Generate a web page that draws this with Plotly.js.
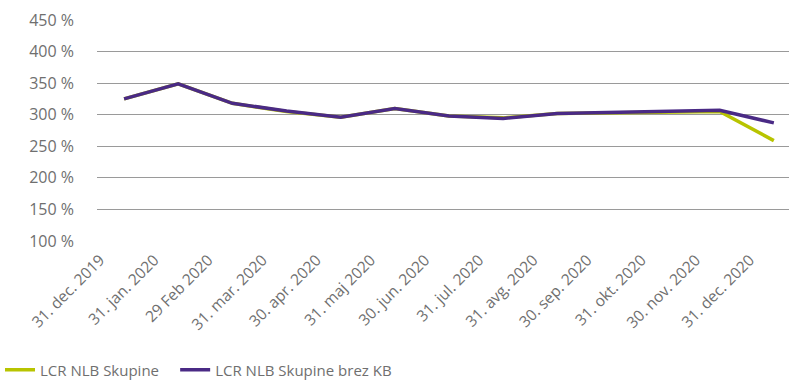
<!DOCTYPE html>
<html><head><meta charset="utf-8">
<script src="https://cdn.plot.ly/plotly-3.0.1.min.js"></script>
<style>html,body{margin:0;padding:0;background:#fff;}#chart{width:789px;height:380px;}</style>
</head><body><div id="chart"></div>
<script>
const categories = ["31. dec. 2019","31. jan. 2020","29 Feb 2020","31. mar. 2020","30. apr. 2020","31. maj 2020","30. jun. 2020","31. jul. 2020","31. avg. 2020","30. sep. 2020","31. okt. 2020","30. nov. 2020","31. dec. 2020"];
const lcrGroup = [325, 349, 318, 305, 296, 310, 298, 295, 302, 303, 305, 305, 259];
const lcrGroupExKB = [325, 349, 318, 306, 296, 310, 298, 294, 302, 304, 306, 307, 287];
const yTicks = [100,150,200,250,300,350,400,450];
const yTickLabels = yTicks.map(v => v + " %");

const traces = [
  {x: categories, y: lcrGroup, name: "LCR NLB Skupine", type: "scatter", mode: "lines",
   line: {color: "#b8c400", width: 3.5}, legend: "legend"},
  {x: categories, y: lcrGroupExKB, name: "LCR NLB Skupine brez KB", type: "scatter", mode: "lines",
   line: {color: "#4a2a85", width: 3.5}, legend: "legend2"}
];
const legendBase = {orientation: "h", xref: "container", yref: "container", xanchor: "left",
  y: 0.026, yanchor: "middle", font: {size: 15, color: "#6f6f6f"}, itemwidth: 30};
const layout = {
  width: 789, height: 380,
  margin: {l: 97, r: 0, t: 20, b: 139},
  paper_bgcolor: "#fff", plot_bgcolor: "#fff",
  font: {family: "Open Sans, Noto Sans, sans-serif", size: 15, color: "#6f6f6f"},
  showlegend: true,
  legend: Object.assign({}, legendBase, {x: 0.0}),
  legend2: Object.assign({}, legendBase, {x: 0.222}),
  xaxis: {type: "category", range: [-0.5, 12.28], tickangle: -45, showgrid: false,
    showline: false, zeroline: false, ticks: "", automargin: false,
    ticklabelshift: -24, ticklabelstandoff: 6,
    tickfont: {size: 15.5, color: "#6f6f6f"}},
  yaxis: {range: [100, 450], tickvals: yTicks, ticktext: yTickLabels, showgrid: true,
    gridcolor: "#9a9a9a", gridwidth: 1, zeroline: false, showline: false, ticks: "",
    automargin: false, ticklabelstandoff: 22, tickfont: {size: 16, color: "#6f6f6f"}}
};
Plotly.newPlot("chart", traces, layout, {displayModeBar: false, staticPlot: true});
</script></body></html>
